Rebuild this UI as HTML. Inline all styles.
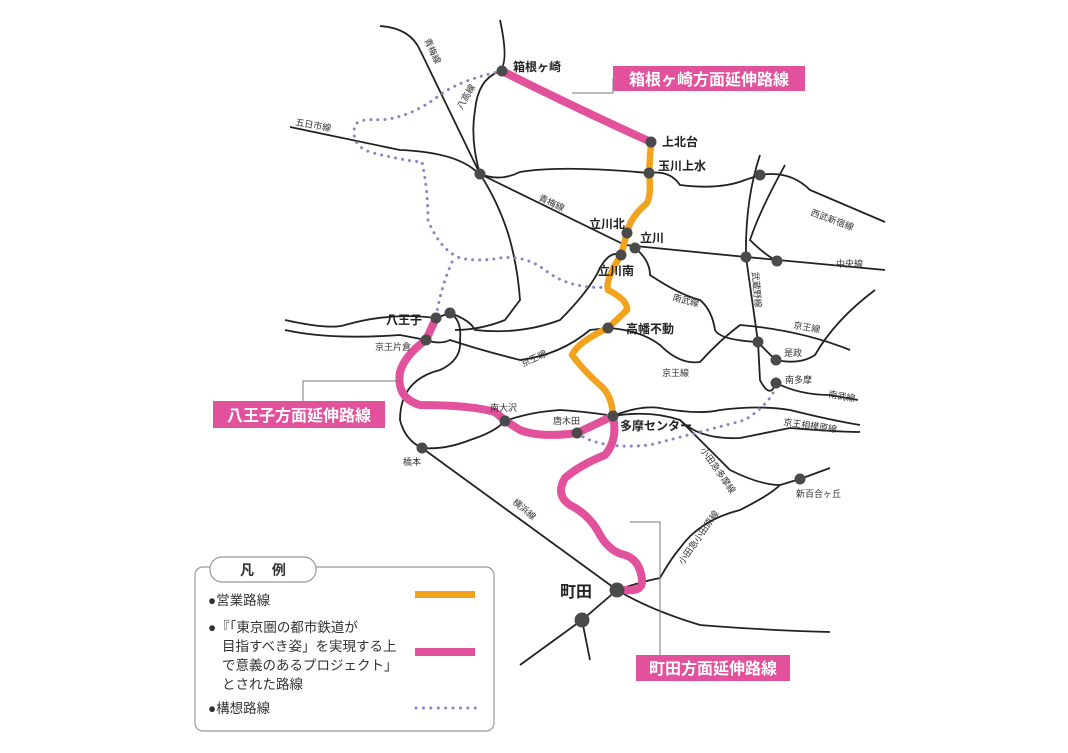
<!DOCTYPE html>
<html><head><meta charset="utf-8"><style>
html,body{margin:0;padding:0;background:#fff;}
svg{display:block;font-family:"Liberation Sans","Noto Sans CJK JP",sans-serif;}
.b{fill:none;stroke:#222;stroke-width:1.8;}
.s{font-size:9px;fill:#333;}
.m{font-size:12px;font-weight:bold;fill:#222;}
</style></head><body>
<svg width="1068" height="753" viewBox="0 0 1068 753">
<g class="b">
<path d="M380,26 Q410,28 420,50 L480,174 Q500,205 510,240 Q518,270 520,300 L505,320 Q480,330 455,330"/>
<path d="M480,174 Q470,140 475,110 Q478,80 498,72 Q510,66 500,20"/>
<path d="M290,127 L400,150 Q450,152 472,168 L480,174"/>
<path d="M480,174 Q500,182 520,172 Q560,165 649,173 Q670,170 680,185 Q720,190 745,180 L760,175 Q790,170 810,190 L885,222"/>
<path d="M480,174 L625,245 L746,257 L885,270"/>
<path d="M760,155 Q745,200 746,257 Q752,300 758,342 L760,380 Q770,400 776,383"/>
<path d="M785,165 Q760,210 750,240 Q765,255 777,261"/>
<path d="M285,320 Q330,330 345,325 Q390,312 436,318 L450,313 Q470,320 475,330 Q520,335 560,320 Q590,290 600,268 Q610,250 621,255"/>
<path d="M285,330 Q330,340 400,335 L426,340 Q440,345 450,340 Q480,350 520,360 Q560,355 590,330 L608,328 Q640,330 660,345 Q680,365 700,362 Q720,340 740,325 Q800,330 850,350"/>
<path d="M634,247 Q650,260 650,275 Q680,295 700,300 Q712,310 715,330 Q720,340 758,342 Q770,355 776,360 Q800,365 815,355 Q835,320 875,290"/>
<path d="M776,383 Q800,395 830,395 L858,400"/>
<path d="M450,313 Q462,320 460,340 Q462,360 440,370 Q400,380 400,420 Q405,440 422,448 Q445,450 470,440 Q495,432 505,421 Q530,412 560,410 Q590,412 613,416 Q640,405 660,408 Q700,415 720,410 Q760,405 790,410 Q830,420 860,425"/>
<path d="M613,416 Q650,410 680,420 Q700,440 740,438 Q770,432 790,428 Q840,432 860,432"/>
<path d="M422,448 L617,590 Q650,610 700,625 Q760,630 830,632"/>
<path d="M617,590 Q640,582 660,578 Q670,560 680,548 Q700,520 740,510 Q770,495 780,485 L800,479 L830,468"/>
<path d="M680,420 Q700,440 730,470 Q760,485 780,485"/>
<path d="M617,590 L582,620 L520,665"/>
<path d="M582,620 L590,660"/>
</g>
<g fill="none" stroke="#8a86c4" stroke-width="3" stroke-dasharray="0.1 7" stroke-linecap="round">
<path d="M502,71 Q460,80 440,95 Q410,118 380,120 Q360,118 355,125 Q350,145 370,152 Q400,160 422,162 Q428,190 428,220 Q440,250 460,258 Q480,262 500,258 Q525,255 545,270 Q570,290 610,287"/>
<path d="M452,262 Q440,290 436,318"/>
<path d="M577,433 Q600,450 650,445 Q700,432 745,420 Q775,400 776,383"/>
</g>
<g fill="none" stroke="#e2529c" stroke-width="8" stroke-linecap="round" stroke-linejoin="round">
<path d="M502,71 Q580,110 651,142"/>
<path d="M436,318 L426,340 Q405,355 400,372 Q396,398 420,405 Q470,405 495,412 Q505,421 520,430 Q540,438 577,433 L613,416 Q618,440 605,455 Q580,465 565,478 Q555,495 570,505 Q590,515 600,535 Q610,552 625,555 Q640,560 642,580 Q643,592 625,590"/>
</g>
<path d="M651,142 L649,173 Q652,200 645,205 Q630,218 627,233 L621,255 Q605,280 608,290 Q628,300 627,310 L608,328 Q578,342 572,355 Q585,372 600,385 Q612,395 613,416" fill="none" stroke="#f2a21d" stroke-width="6.5" stroke-linejoin="round"/>
<g fill="#4a4a4a">
<circle cx="502" cy="71" r="5.5"/><circle cx="651" cy="142" r="5.5"/><circle cx="649" cy="173" r="5.5"/>
<circle cx="627" cy="233" r="5.5"/><circle cx="635" cy="248" r="5.5"/><circle cx="621" cy="255" r="5.5"/>
<circle cx="608" cy="328" r="5.5"/><circle cx="613" cy="416" r="5.5"/><circle cx="577" cy="433" r="5.5"/>
<circle cx="505" cy="421" r="5.5"/><circle cx="426" cy="340" r="5.5"/><circle cx="436" cy="318" r="5.5"/>
<circle cx="450" cy="313" r="5.5"/><circle cx="422" cy="448" r="5.5"/><circle cx="617" cy="590" r="7.5"/>
<circle cx="582" cy="620" r="7.5"/><circle cx="480" cy="174" r="5.5"/><circle cx="760" cy="175" r="5.5"/>
<circle cx="746" cy="257" r="5.5"/><circle cx="777" cy="261" r="5.5"/><circle cx="758" cy="342" r="5.5"/>
<circle cx="776" cy="360" r="5.5"/><circle cx="776" cy="383" r="5.5"/><circle cx="800" cy="479" r="5.5"/>
</g>
<g fill="none" stroke="#777" stroke-width="1">
<path d="M572,93 L613,93 L613,78"/>
<path d="M303,401 L303,381 L400,381"/>
<path d="M630,522 L660,522 L660,655"/>
</g>
<g class="m">
<text x="513" y="71">箱根ヶ崎</text><text x="662" y="146">上北台</text><text x="658" y="170">玉川上水</text>
<text x="589" y="228">立川北</text><text x="640" y="242">立川</text><text x="598" y="275">立川南</text>
<text x="626" y="333">高幡不動</text><text x="620" y="430">多摩センター</text><text x="386" y="324">八王子</text>
<text x="560" y="597" font-size="16">町田</text>
</g>
<g class="s">
<text x="375" y="350">京王片倉</text><text x="490" y="411">南大沢</text><text x="553" y="424">唐木田</text>
<text x="403" y="465">橋本</text><text x="784" y="356">是政</text><text x="785" y="383">南多摩</text>
<text x="796" y="497">新百合ヶ丘</text><text x="295" y="125" transform="rotate(10 295 125)">五日市線</text>
<text x="538" y="200" transform="rotate(25 538 200)">青梅線</text><text x="810" y="215" transform="rotate(20 810 215)">西武新宿線</text>
<text x="836" y="267">中央線</text><text x="672" y="300" transform="rotate(15 672 300)">南武線</text>
<text x="793" y="328" transform="rotate(10 793 328)">京王線</text><text x="662" y="376">京王線</text>
<text x="523" y="367" transform="rotate(-25 523 367)">京王線</text><text x="828" y="397" transform="rotate(10 828 397)">南武線</text>
<text x="783" y="425" transform="rotate(8 783 425)">京王相模原線</text><text x="512" y="503" transform="rotate(40 512 503)">横浜線</text>
<text x="700" y="450" transform="rotate(55 700 450)">小田急多摩線</text><text x="683" y="565" transform="rotate(-55 683 565)">小田急小田原線</text>
<text x="752" y="272" transform="rotate(85 752 272)">武蔵野線</text><text x="424" y="40" transform="rotate(65 424 40)">青梅線</text>
<text x="462" y="110" transform="rotate(-60 462 110)">八高線</text>
</g>
<rect x="613" y="66" width="192" height="25" fill="#e2529c"/>
<text x="709" y="85" text-anchor="middle" font-size="16" font-weight="bold" fill="#fff">箱根ヶ崎方面延伸路線</text>
<rect x="213" y="401" width="172" height="27" fill="#e2529c"/>
<text x="299" y="421" text-anchor="middle" font-size="16" font-weight="bold" fill="#fff">八王子方面延伸路線</text>
<rect x="636" y="655" width="154" height="26" fill="#e2529c"/>
<text x="713" y="674" text-anchor="middle" font-size="16" font-weight="bold" fill="#fff">町田方面延伸路線</text>
<rect x="195" y="567" width="299" height="164" rx="8" fill="#fff" stroke="#999" stroke-width="1.2"/>
<rect x="210" y="557" width="106" height="25" rx="12" fill="#fff" stroke="#999" stroke-width="1.2"/>
<text x="263" y="575" text-anchor="middle" font-size="14" font-weight="bold" fill="#333">凡　 例</text>
<g font-size="13.5" fill="#333">
<text x="208" y="605">●営業路線</text>
<text x="208" y="632">●『「東京圏の都市鉄道が</text>
<text x="222" y="651">目指すべき姿」を実現する上</text>
<text x="222" y="670">で意義のあるプロジェクト」</text>
<text x="222" y="689">とされた路線</text>
<text x="208" y="713">●構想路線</text>
</g>
<rect x="415" y="591" width="60" height="7" fill="#f2a21d"/>
<rect x="415" y="648" width="60" height="8" fill="#e2529c"/>
<line x1="416" y1="708" x2="476" y2="708" stroke="#8a86c4" stroke-width="3" stroke-dasharray="0.1 7.3" stroke-linecap="round"/>
</svg>
</body></html>
